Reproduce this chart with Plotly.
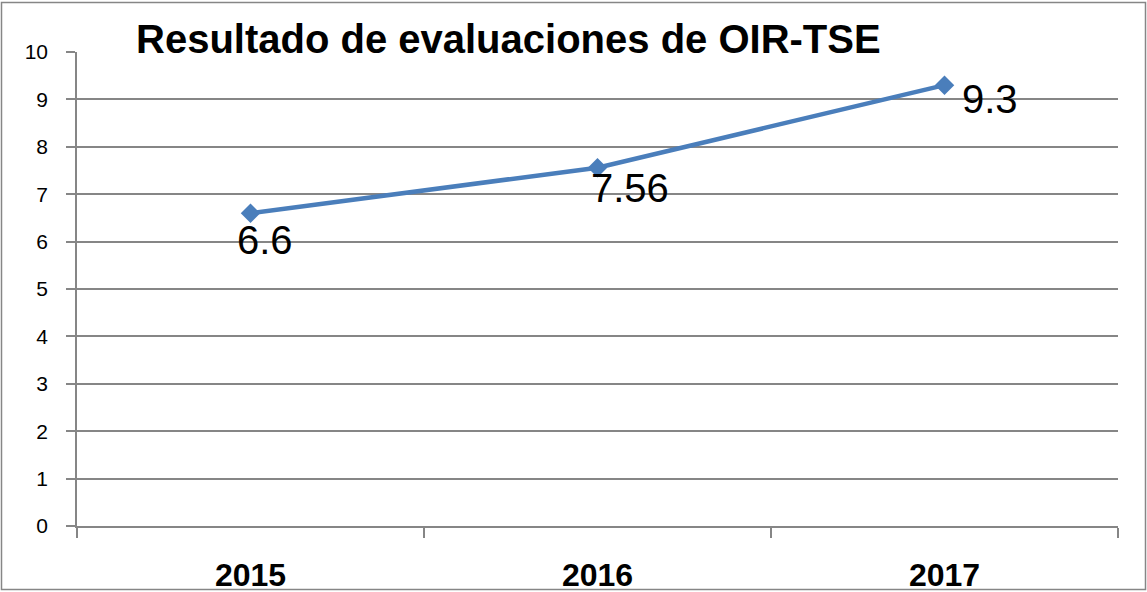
import plotly.graph_objects as go

years = ["2015", "2016", "2017"]
scores = [6.6, 7.56, 9.3]
labels = ["6.6", "7.56", "9.3"]
y_ticks = [0, 1, 2, 3, 4, 5, 6, 7, 8, 9, 10]
title_text = "Resultado de evaluaciones de OIR-TSE"

W, H = 1147, 592
ml, mr, mt, mb = 77, 29, 52, 66
pw, ph = W - ml - mr, H - mt - mb

FONT = "Liberation Sans, Arial, sans-serif"

fig = go.Figure()
fig.add_trace(go.Scatter(
    x=years, y=scores, mode="lines+markers",
    line=dict(color="#4A7EBB", width=4.5),
    marker=dict(symbol="diamond", size=15, color="#4A7EBB"),
    hoverinfo="x+y", showlegend=False,
))

label_offsets = [(14, -27), (32, -20), (45, -14)]
for i, (y, t, (dx, dy)) in enumerate(zip(scores, labels, label_offsets)):
    fig.add_annotation(x=i, y=y, text=t, showarrow=False, xshift=dx, yshift=dy,
                       font=dict(family=FONT, size=40, color="black"))

fig.add_annotation(xref="paper", yref="paper",
                   x=(133 - ml) / pw, y=(H - mb - 39) / ph,
                   xanchor="left", yanchor="middle", text=f"<b>{title_text}</b>",
                   showarrow=False, bgcolor="white", borderpad=2,
                   font=dict(family=FONT, size=40, color="black"))

# outer chart border
fig.add_shape(type="rect", xref="paper", yref="paper",
              x0=(1.5 - ml) / pw, x1=(W - 1.5 - ml) / pw,
              y0=(-(mb - 2.5)) / ph, y1=(ph + mt - 2.5) / ph,
              line=dict(color="#868686", width=1.5), layer="below")

fig.update_layout(
    width=W, height=H,
    margin=dict(l=ml, r=mr, t=mt, b=mb, autoexpand=False),
    paper_bgcolor="white", plot_bgcolor="white",
    font=dict(family=FONT, color="black"),
)
fig.update_xaxes(
    type="category", range=[-0.5, 2.5], tickson="boundaries", ticks="outside", ticklen=10,
    tickcolor="#868686", tickwidth=1.5, automargin=False, tickangle=0,
    showline=True, linecolor="#868686", linewidth=1.5, showgrid=False,
    tickfont=dict(family=FONT, size=32, color="black"),
    tickprefix="<b>", ticksuffix="</b>",
    ticklabelstandoff=20,
)
fig.update_yaxes(
    range=[0, 10], tickvals=y_ticks, ticks="outside", ticklen=9,
    tickcolor="#868686", tickwidth=1.5, automargin=False,
    showline=True, linecolor="#868686", linewidth=1.5,
    showgrid=True, gridcolor="#868686", gridwidth=1.5, zeroline=False,
    tickfont=dict(family=FONT, size=21, color="black"),
    ticklabelstandoff=14,
)

fig.write_html("out.html", config={"displayModeBar": False},
               post_script="document.body.style.margin='0';")
